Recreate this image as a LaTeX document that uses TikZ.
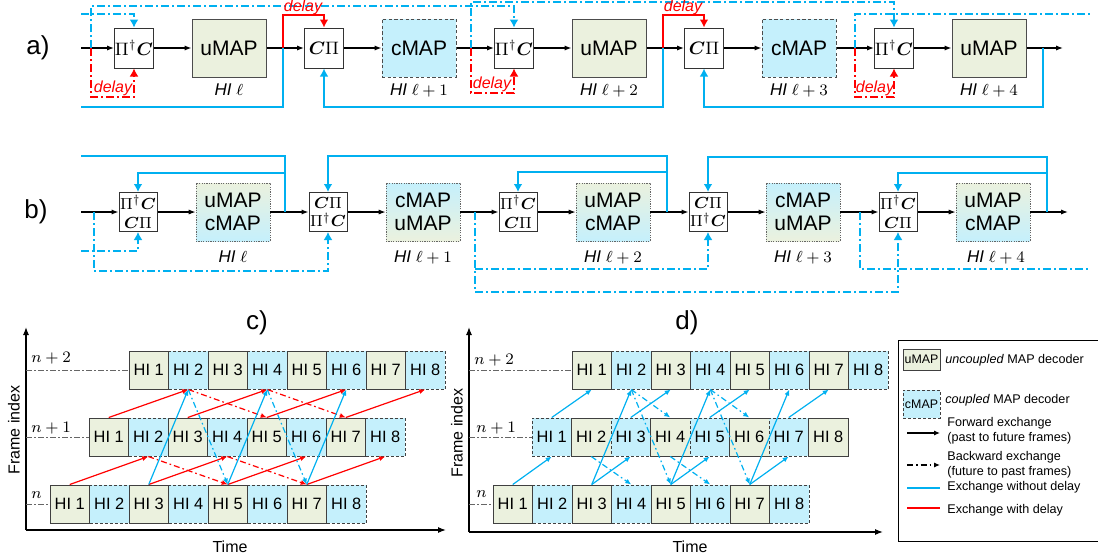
\documentclass[tikz,border=0pt]{standalone}
\usepackage{amsmath,amssymb,bm}
\usepackage{fontspec}
\setmainfont{Liberation Sans}
\usetikzlibrary{arrows.meta,positioning}

\definecolor{ugreen}{RGB}{235,241,222}
\definecolor{ccyan}{RGB}{197,240,252}
\definecolor{xblue}{RGB}{0,176,240}
\definecolor{xred}{RGB}{255,0,0}

\newcommand{\pcop}{$\Pi^{\dagger}\bm{C}$}
\newcommand{\cpop}{$\bm{C}\Pi$}

\begin{document}
\begin{tikzpicture}[
  x=0.5pt, y=-0.5pt,
  every node/.style={inner sep=0pt},
  perm/.style={draw=black!80, fill=white, line width=0.5pt, minimum width=19.5pt, minimum height=20pt, font=\fontsize{9}{10}\selectfont},
  perm2/.style={perm, minimum width=19pt, minimum height=19.5pt, align=center, font=\fontsize{8.2}{9.4}\selectfont},
  umap/.style={draw=black!70, fill=ugreen, line width=0.5pt, minimum width=37pt, minimum height=29pt, font=\fontsize{10.5}{12.5}\selectfont},
  cmap/.style={umap, fill=ccyan, dash pattern=on 1.6pt off 1.2pt},
  ucmap/.style={draw=black!60, line width=0.4pt, dash pattern=on 0.6pt off 0.6pt, top color=ugreen, bottom color=ccyan, minimum width=37pt, minimum height=29pt, align=center, font=\fontsize{10.5}{11.5}\selectfont},
  cumap/.style={ucmap, top color=ccyan, bottom color=ugreen},
  hilab/.style={font=\fontsize{8.5}{10}\selectfont},
  panel/.style={font=\fontsize{13}{15}\selectfont},
  delaylab/.style={text=xred, font=\fontsize{8}{9.6}\selectfont\itshape},
  flow/.style={-{Latex[length=3.5pt,width=2.6pt]}, line width=0.6pt},
  fb/.style={xblue, line width=0.8pt},
  fbarr/.style={fb, -{Latex[length=4pt,width=4.4pt]}},
  bdd/.style={xblue, line width=0.6pt, dash pattern=on 4pt off 1.5pt on 1pt off 1.5pt},
  bddarr/.style={bdd, -{Latex[length=4pt,width=4.4pt]}},
  rd/.style={xred, line width=0.8pt, -{Latex[length=4pt,width=4.4pt]}},
  rdd/.style={xred, line width=0.6pt, dash pattern=on 4pt off 1.5pt on 1pt off 1.5pt, -{Latex[length=4pt,width=4.4pt]}},
  hiu/.style={draw=black!75, fill=ugreen, line width=0.5pt, minimum width=19.75pt, minimum height=19pt, font=\fontsize{8.2}{9}\selectfont},
  hic/.style={hiu, fill=ccyan, dash pattern=on 1.5pt off 1pt},
  axis/.style={-{Latex[length=4pt,width=3pt]}, line width=0.6pt},
  axlab/.style={font=\fontsize{8}{9.6}\selectfont},
  rowlab/.style={anchor=west, font=\fontsize{8}{9.6}\selectfont},
  rowline/.style={black!60, line width=0.5pt, dash pattern=on 3pt off 1.2pt on 0.6pt off 1.2pt},
  ex/.style={line width=0.6pt, -{Latex[length=3pt,width=2.6pt]}},
  exdd/.style={dash pattern=on 3pt off 1.5pt on 0.8pt off 1.5pt},
  leg/.style={anchor=west, align=left, font=\fontsize{6.3}{7.5}\selectfont}
]
\useasboundingbox (0,0) rectangle (1098,558);

% ---------- a) ----------
\node[panel] (a-lab) at (38,48) {a)};
\coordinate (a-in) at (81,48);
\node[perm] (a-pc1) at (134,48) {\pcop};
\node[umap] (a-u1) at (229,48) {uMAP};
\node[perm] (a-cp1) at (324,48) {\cpop};
\node[cmap] (a-c1) at (419,48) {cMAP};
\node[perm] (a-pc2) at (514,48) {\pcop};
\node[umap] (a-u2) at (609,48) {uMAP};
\node[perm] (a-cp2) at (704,48) {\cpop};
\node[cmap] (a-c2) at (799,48) {cMAP};
\node[perm] (a-pc3) at (894,48) {\pcop};
\node[umap] (a-u3) at (989,48) {uMAP};
\coordinate (a-out) at (1063,48);

\node[hilab] (a-h1) at (229,90) {\textit{HI} $\ell$};
\node[hilab] (a-h2) at (419,90) {\textit{HI} $\ell+1$};
\node[hilab] (a-h3) at (609,90) {\textit{HI} $\ell+2$};
\node[hilab] (a-h4) at (799,90) {\textit{HI} $\ell+3$};
\node[hilab] (a-h5) at (989,90) {\textit{HI} $\ell+4$};

\foreach \s/\t in {a-in/a-pc1,a-pc1/a-u1,a-u1/a-cp1,a-cp1/a-c1,a-c1/a-pc2,a-pc2/a-u2,a-u2/a-cp2,a-cp2/a-c2,a-c2/a-pc3,a-pc3/a-u3,a-u3/a-out}
  \draw[flow] (\s) -- (\t);

\coordinate (ja0) at (91,48);
\coordinate (ja1) at (283,48);
\coordinate (ja2) at (471,48);
\coordinate (ja3) at (663,48);
\coordinate (ja4) at (855,48);
\coordinate (ja5) at (1043,48);

% exchange without delay
\draw[fb] (ja1) -- ++(0,59) -- ++(-202,0);
\draw[fbarr] (ja3) -- ++(0,59) -| (a-cp1.south);
\draw[fbarr] (ja5) -- ++(0,59) -| (a-cp2.south);
\draw[bddarr] (a-in) ++(0,-34) -| (a-pc1.north);
\draw[bddarr] (ja0) -- ++(0,-42) -| (a-pc2.north);
\draw[bddarr] (ja2) -- ++(0,-46) -| (a-pc3.north);
\draw[bdd] (ja4) -- ++(0,-34) -- ++(235,0);

% exchange with delay
\draw[rd] (ja1) -- ++(0,-33) -| (a-cp1.north);
\draw[rd] (ja3) -- ++(0,-33) -| (a-cp2.north);
\node[delaylab] (a-d1) at (303,7) {delay};
\node[delaylab] (a-d2) at (683,7) {delay};
\draw[rdd] (ja0) -- ++(0,49) -| (a-pc1.south);
\draw[rdd] (ja2) -- ++(0,45) -| (a-pc2.south);
\draw[rdd] (ja4) -- ++(0,49) -| (a-pc3.south);
\node[delaylab] (a-d3) at (113,88) {delay};
\node[delaylab] (a-d4) at (492,84) {delay};
\node[delaylab] (a-d5) at (875,88) {delay};

% ---------- b) ----------
\node[panel] (b-lab) at (36,212) {b)};
\coordinate (b-in) at (81,212);
\node[perm2] (b-pc1) at (138,212) {\pcop\\\cpop};
\node[ucmap] (b-m1) at (233,212) {uMAP\\cMAP};
\node[perm2] (b-cp1) at (328,212) {\cpop\\\pcop};
\node[cumap] (b-m2) at (423,212) {cMAP\\uMAP};
\node[perm2] (b-pc2) at (518,212) {\pcop\\\cpop};
\node[ucmap] (b-m3) at (613,212) {uMAP\\cMAP};
\node[perm2] (b-cp2) at (708,212) {\cpop\\\pcop};
\node[cumap] (b-m4) at (803,212) {cMAP\\uMAP};
\node[perm2] (b-pc3) at (898,212) {\pcop\\\cpop};
\node[ucmap] (b-m5) at (993,212) {uMAP\\cMAP};
\coordinate (b-out) at (1068,212);

\node[hilab] (b-h1) at (233,257) {\textit{HI} $\ell$};
\node[hilab] (b-h2) at (423,257) {\textit{HI} $\ell+1$};
\node[hilab] (b-h3) at (613,257) {\textit{HI} $\ell+2$};
\node[hilab] (b-h4) at (803,257) {\textit{HI} $\ell+3$};
\node[hilab] (b-h5) at (996,257) {\textit{HI} $\ell+4$};

\foreach \s/\t in {b-in/b-pc1,b-pc1/b-m1,b-m1/b-cp1,b-cp1/b-m2,b-m2/b-pc2,b-pc2/b-m3,b-m3/b-cp2,b-cp2/b-m4,b-m4/b-pc3,b-pc3/b-m5,b-m5/b-out}
  \draw[flow] (\s) -- (\t);

\coordinate (jb0) at (94,212);
\coordinate (jb1) at (285,212);
\coordinate (jb2) at (475,212);
\coordinate (jb3) at (667,212);
\coordinate (jb4) at (860,212);
\coordinate (jb5) at (1047,212);

\draw[fb] (jb1) -- ++(0,-56) -- ++(-204,0);
\draw[fbarr] (jb1) ++(0,-39) -| (b-pc1.north);
\draw[fbarr] (jb3) -- ++(0,-56) -| (b-cp1.north);
\draw[fbarr] (jb3) ++(0,-40) -| (b-pc2.north);
\draw[fbarr] (jb5) -- ++(0,-55) -| (b-cp2.north);
\draw[fbarr] (jb5) ++(0,-39) -| (b-pc3.north);

\draw[bddarr] (b-in) ++(0,39) -| (b-pc1.south);
\draw[bddarr] (jb0) -- ++(0,59) -| (b-cp1.south);
\draw[bddarr] (jb2) -- ++(0,80) -| (b-pc3.south);
\draw[bddarr] (jb2) ++(0,57) -| (b-cp2.south);
\draw[bdd] (jb4) -- ++(0,57) -- ++(230,0);

% ---------- c) ----------
\node[panel] (c-lab) at (257,323) {c)};
\coordinate (c-o) at (26,530);
\coordinate (c-yt) at (26,327);
\coordinate (c-xe) at (446,530);
\draw[axis] (c-o) -- (c-yt);
\draw[axis] (c-o) -- (c-xe);
\node[axlab] (c-time) at (230,547) {Time};
\node[axlab, rotate=90] (c-fi) at (14,430) {Frame index};

\foreach \i/\s in {1/hiu,2/hic,3/hiu,4/hic,5/hiu,6/hic,7/hiu,8/hic} {
  \node[\s] (c0-\i) at ({50+39.5*(\i-0.5)},504) {HI \i};
  \node[\s] (c1-\i) at ({89+39.5*(\i-0.5)},437) {HI \i};
  \node[\s] (c2-\i) at ({129+39.5*(\i-0.5)},370) {HI \i};
}
\node[rowlab] (c-r2) at (31,358) {$n+2$};
\node[rowlab] (c-r1) at (31,428) {$n+1$};
\node[rowlab] (c-r0) at (31,495) {$n$};
\draw[rowline] (c-o |- c2-1.west) -- (c2-1.west);
\draw[rowline] (c-o |- c1-1.west) -- (c1-1.west);
\draw[rowline] (c-o |- c0-1.west) -- (c0-1.west);

\foreach \i/\j in {1/2,3/4,5/6,7/8} {
  \draw[ex, xred] (c0-\i.north) -- (c1-\j.south);
  \draw[ex, xred] (c1-\i.north) -- (c2-\j.south);
}
\foreach \s/\t in {c1-2/c0-5,c1-4/c0-7,c2-2/c1-5,c2-4/c1-7}
  \draw[ex, exdd, xred] (\s.south) -- (\t.north);
\foreach \s/\t in {c0-3/c2-2,c0-5/c2-4,c0-7/c2-6}
  \draw[ex, xblue] (\s.north) -- (\t.south);
\foreach \s/\t in {c2-2/c0-5,c2-4/c0-7}
  \draw[ex, exdd, xblue] (\s.south) -- (\t.north);

% ---------- d) ----------
\node[panel] (d-lab) at (687,323) {d)};
\coordinate (d-o) at (469,532);
\coordinate (d-yt) at (469,327);
\coordinate (d-xe) at (883,532);
\draw[axis] (d-o) -- (d-yt);
\draw[axis] (d-o) -- (d-xe);
\node[axlab] (d-time) at (690,547) {Time};
\node[axlab, rotate=90] (d-fi) at (457,433) {Frame index};

\foreach \i/\s/\t in {1/hiu/hic,2/hic/hiu,3/hiu/hic,4/hic/hiu,5/hiu/hic,6/hic/hiu,7/hiu/hic,8/hic/hiu} {
  \node[\s] (d0-\i) at ({493+39.5*(\i-0.5)},504) {HI \i};
  \node[\t] (d1-\i) at ({532+39.5*(\i-0.5)},437) {HI \i};
  \node[\s] (d2-\i) at ({572+39.5*(\i-0.5)},370) {HI \i};
}
\node[rowlab] (d-r2) at (474,360) {$n+2$};
\node[rowlab] (d-r1) at (476,428) {$n+1$};
\node[rowlab] (d-r0) at (476,494) {$n$};
\draw[rowline] (d-o |- d2-1.west) -- (d2-1.west);
\draw[rowline] (d-o |- d1-1.west) -- (d1-1.west);
\draw[rowline] (d-o |- d0-1.west) -- (d0-1.west);

\foreach \s/\t in {d0-1/d1-1,d0-3/d1-3,d0-3/d2-2,d0-5/d1-5,d0-5/d2-4,d0-7/d1-7,d0-7/d2-6,d1-1/d2-1,d1-3/d2-3,d1-5/d2-5,d1-7/d2-7}
  \draw[ex, xblue] (\s.north) -- (\t.south);
\foreach \s/\t in {d2-2/d1-4,d2-2/d0-5,d2-4/d1-6,d2-4/d0-7,d1-2/d0-4,d1-4/d0-6}
  \draw[ex, exdd, xblue] (\s.south) -- (\t.north);

% ---------- legend ----------
\draw[line width=0.5pt] (1100,340) -- (898,340) -- (898,541) -- (1100,541);
\node[hiu, minimum width=18.5pt, minimum height=10.5pt, font=\fontsize{6.2}{7}\selectfont] (lg-u) at (921.5,359.5) {uMAP};
\node[hic, minimum width=18.5pt, minimum height=14pt, font=\fontsize{6.2}{7}\selectfont] (lg-c) at (921.5,404) {cMAP};
\node[leg] (lg-ut) at (945,360) {\textit{uncoupled} MAP decoder};
\node[leg] (lg-ct) at (945,400) {\textit{coupled} MAP decoder};
\node[leg] (lg-ft) at (947,430.5) {Forward exchange\\(past to future frames)};
\node[leg] (lg-bt) at (947,464.5) {Backward exchange\\(future to past frames)};
\node[leg] (lg-nt) at (947,487) {Exchange without delay};
\node[leg] (lg-dt) at (947,510) {Exchange with delay};
\coordinate (lg-f1) at (907,433);
\coordinate (lg-f2) at (940,433);
\coordinate (lg-b1) at (907,465);
\coordinate (lg-b2) at (940,465);
\coordinate (lg-n1) at (907,488);
\coordinate (lg-n2) at (940,488);
\coordinate (lg-d1) at (907,508);
\coordinate (lg-d2) at (940,508);
\draw[ex] (lg-f1) -- (lg-f2);
\draw[ex, exdd] (lg-b1) -- (lg-b2);
\draw[xblue, line width=0.6pt] (lg-n1) -- (lg-n2);
\draw[xred, line width=0.6pt] (lg-d1) -- (lg-d2);
\end{tikzpicture}
\end{document}
